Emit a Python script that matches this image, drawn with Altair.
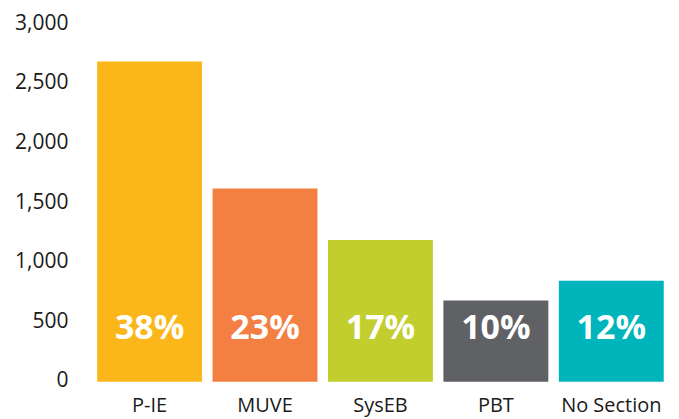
import altair as alt
import pandas as pd

categories = ["P-IE", "MUVE", "SysEB", "PBT", "No Section"]
counts = [2688, 1621, 1189, 682, 848]
pct_labels = ["38%", "23%", "17%", "10%", "12%"]
colors = ["#FBB719", "#F37F42", "#C1CE2E", "#606164", "#00B4BB"]
y_ticks = [0, 500, 1000, 1500, 2000, 2500, 3000]

df = pd.DataFrame({"cat": categories, "count": counts, "pct": pct_labels})

x = alt.X("cat:N", sort=categories, title=None,
          scale=alt.Scale(paddingInner=0.091, paddingOuter=0.0455),
          axis=alt.Axis(labelAngle=0, ticks=False, domain=False, labelPadding=14,
                        labelFont="Open Sans", labelFontSize=20, labelColor="#1a1a1a"))

bars = alt.Chart(df).mark_bar().encode(
    x=x,
    y=alt.Y("count:Q", title=None,
            scale=alt.Scale(domain=[0, 3000], nice=False),
            axis=alt.Axis(values=y_ticks, format=",.0f", ticks=False, domain=False, grid=False,
                          labelPadding=24, labelFont="Open Sans", labelFontSize=21,
                          labelColor="#1a1a1a", labelOffset=-1,
                          labelBound=False, labelFlush=False)),
    color=alt.Color("cat:N", sort=categories, legend=None,
                    scale=alt.Scale(domain=categories, range=colors)),
)

text = alt.Chart(df).mark_text(
    font="Open Sans", fontSize=34, fontWeight="bold", color="white",
    baseline="middle", align="center", dy=-53,
).encode(
    x=alt.X("cat:N", sort=categories),
    y=alt.datum(0),
    text="pct:N",
)

chart = (bars + text).properties(
    width=578, height=358,
    autosize=alt.AutoSizeParams(type="none"),
    padding={"left": 84, "top": 16, "right": 2, "bottom": 35},
).configure_view(stroke=None)

chart.save("out.html", embed_options={"renderer": "svg", "actions": False})
